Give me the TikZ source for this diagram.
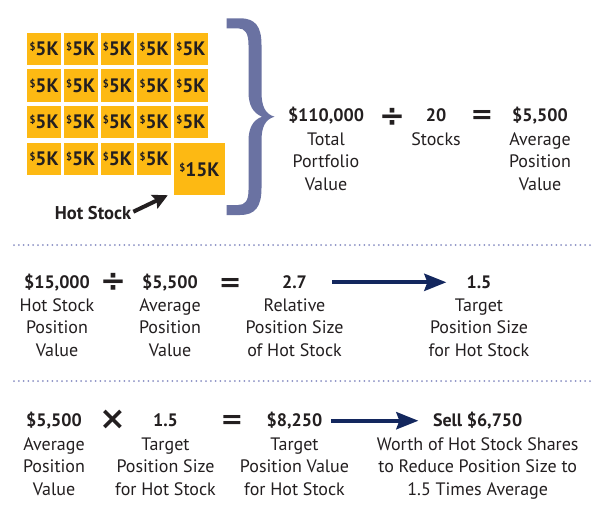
\documentclass[tikz,border=0pt]{standalone}
\usepackage{fontspec}
\setmainfont{PT Sans}
\newfontfamily\opfont{DejaVu Sans}
\usetikzlibrary{arrows.meta}
\definecolor{tilec}{HTML}{FDB913}
\definecolor{inkc}{HTML}{231F20}
\definecolor{bracec}{HTML}{6A72A2}
\definecolor{dotc}{HTML}{8A90C4}
\definecolor{navyc}{HTML}{13275E}
\newcommand\usd{\raisebox{5pt}{\fontsize{10.5}{10.5}\selectfont\$}}
\newcommand\dtop{\rule{0pt}{14pt}}
\tikzset{
  tile/.style={fill=tilec, minimum width=33.5pt, minimum height=32.5pt, inner sep=0pt,
    text=inkc, font=\bfseries\fontsize{19.5}{19.5}\selectfont},
  num/.style={anchor=base, inner sep=0pt, text height=12pt, text depth=0pt,
    text=inkc, font=\bfseries\fontsize{18}{18}\selectfont},
  desc/.style={anchor=north, inner sep=0pt, align=center, text=inkc,
    font=\fontsize{18}{22.6}\selectfont},
  op/.style={inner sep=0pt, text=inkc, font=\opfont\bfseries\fontsize{27}{27}\selectfont},
  divop/.style={op, font=\opfont\bfseries\fontsize{31}{31}\selectfont},
  mulop/.style={op, font=\opfont\bfseries\fontsize{32}{32}\selectfont},
  bigarrow/.style={draw=navyc, line width=4pt, -{Stealth[length=22pt,width=17pt,inset=3pt]}},
  hotarrow/.style={draw=inkc, line width=4pt, -{Stealth[length=15pt,width=15pt,inset=2.5pt]}},
  dotline/.style={draw=dotc, line width=2pt, line cap=round, dash pattern=on 0pt off 4.8pt},
}
\begin{document}
\begin{tikzpicture}[x=1pt,y=-1pt]
\fill[white] (0,0) rectangle (600,512);
\useasboundingbox (0,0) rectangle (600,512);

% tiles
\foreach \i in {0,...,4}{
  \foreach \j in {0,...,2}{
    \node[tile] (t\i\j) at ({44.05+36.7*\i},{48.95+36.6*\j}) {\usd5K};
  }
}
\foreach \i in {0,...,3}{
  \node[tile] (t\i3) at ({44.05+36.7*\i},{48.95+36.6*3}) {\usd5K};
}
\node[tile, minimum width=51pt, minimum height=51.7pt] (big) at (199.5,169.2) {\usd15K};

% hot stock label and arrow
\node[num, font=\bfseries\fontsize{18.5}{18.5}\selectfont] (hot) at (93,219.7) {Hot Stock};
\draw[hotarrow] ([xshift=2pt,yshift=2pt]hot.east) -- ([xshift=-6pt]big.south west);

% brace
\fill[bracec] (226.7,18.3) -- (240,18.3) .. controls (255,18.3) and (261.5,26) .. (261.5,45)
  -- (261.5,92) .. controls (261.5,106) and (265,114) .. (274.5,116.7)
  .. controls (265,119.5) and (261.5,127) .. (261.5,141)
  -- (261.5,188) .. controls (261.5,207) and (255,215) .. (240,215)
  -- (226.7,215) -- (226.7,205) -- (238,205) .. controls (245,205) and (248.5,201) .. (248.5,190)
  -- (248.5,141) .. controls (248.5,128) and (253,120) .. (262,116.7)
  .. controls (253,113) and (248.5,105) .. (248.5,92)
  -- (248.5,45) .. controls (248.5,33) and (245,28.3) .. (238,28.3) -- (226.7,28.3) -- cycle;

% row 1
\node[num] (a1) at (326,121.7) {\$110,000};
\node[desc] (a1d) at (326,131) {\dtop Total\\Portfolio\\Value};
\node[divop] (a1op) at (392,117) {÷};
\node[num] (a2) at (436,121.7) {20};
\node[desc] (a2d) at (436,131) {\dtop Stocks};
\node[op] (a2op) at (482,116.7) {=};
\node[num] (a3) at (540,121.7) {\$5,500};
\node[desc] (a3d) at (540,131) {\dtop Average\\Position\\Value};

\draw[dotline] (14,245) -- (592,245);

% row 2
\node[num] (b1) at (57,288.3) {\$15,000};
\node[desc] (b1d) at (57,297) {\dtop Hot Stock\\Position\\Value};
\node[divop] (b1op) at (113,282) {÷};
\node[num] (b2) at (170,288.3) {\$5,500};
\node[desc] (b2d) at (170,297) {\dtop Average\\Position\\Value};
\node[op] (b2op) at (230.3,285) {=};
\node[num] (b3) at (294.5,288.3) {2.7};
\node[desc] (b3d) at (294.5,297) {\dtop Relative\\Position Size\\of Hot Stock};
\node[num] (b4) at (479,288.3) {1.5};
\node[desc] (b4d) at (479,297) {\dtop Target\\Position Size\\for Hot Stock};
\draw[bigarrow] ([xshift=25pt]b3.east) -- ([xshift=-20pt]b4.west);

\draw[dotline] (14,381) -- (592,381);

% row 3
\node[num] (c1) at (54,426.7) {\$5,500};
\node[desc] (c1d) at (54,436) {\dtop Average\\Position\\Value};
\node[mulop] (c1op) at (112.5,420) {×};
\node[num] (c2) at (165.5,426.7) {1.5};
\node[desc] (c2d) at (165.5,436) {\dtop Target\\Position Size\\for Hot Stock};
\node[op] (c2op) at (232,421.7) {=};
\node[num] (c3) at (294.5,426.7) {\$8,250};
\node[desc] (c3d) at (294.5,436) {\dtop Target\\Position Value\\for Hot Stock};
\node[num] (c4) at (477.7,426.7) {Sell \$6,750};
\node[desc] (c4d) at (477.7,436) {\dtop Worth of Hot Stock Shares\\to Reduce Position Size to\\1.5 Times Average};
\draw[bigarrow] ([xshift=8.4pt]c3.east) -- ([xshift=-14.4pt]c4.west);
\end{tikzpicture}
\end{document}
